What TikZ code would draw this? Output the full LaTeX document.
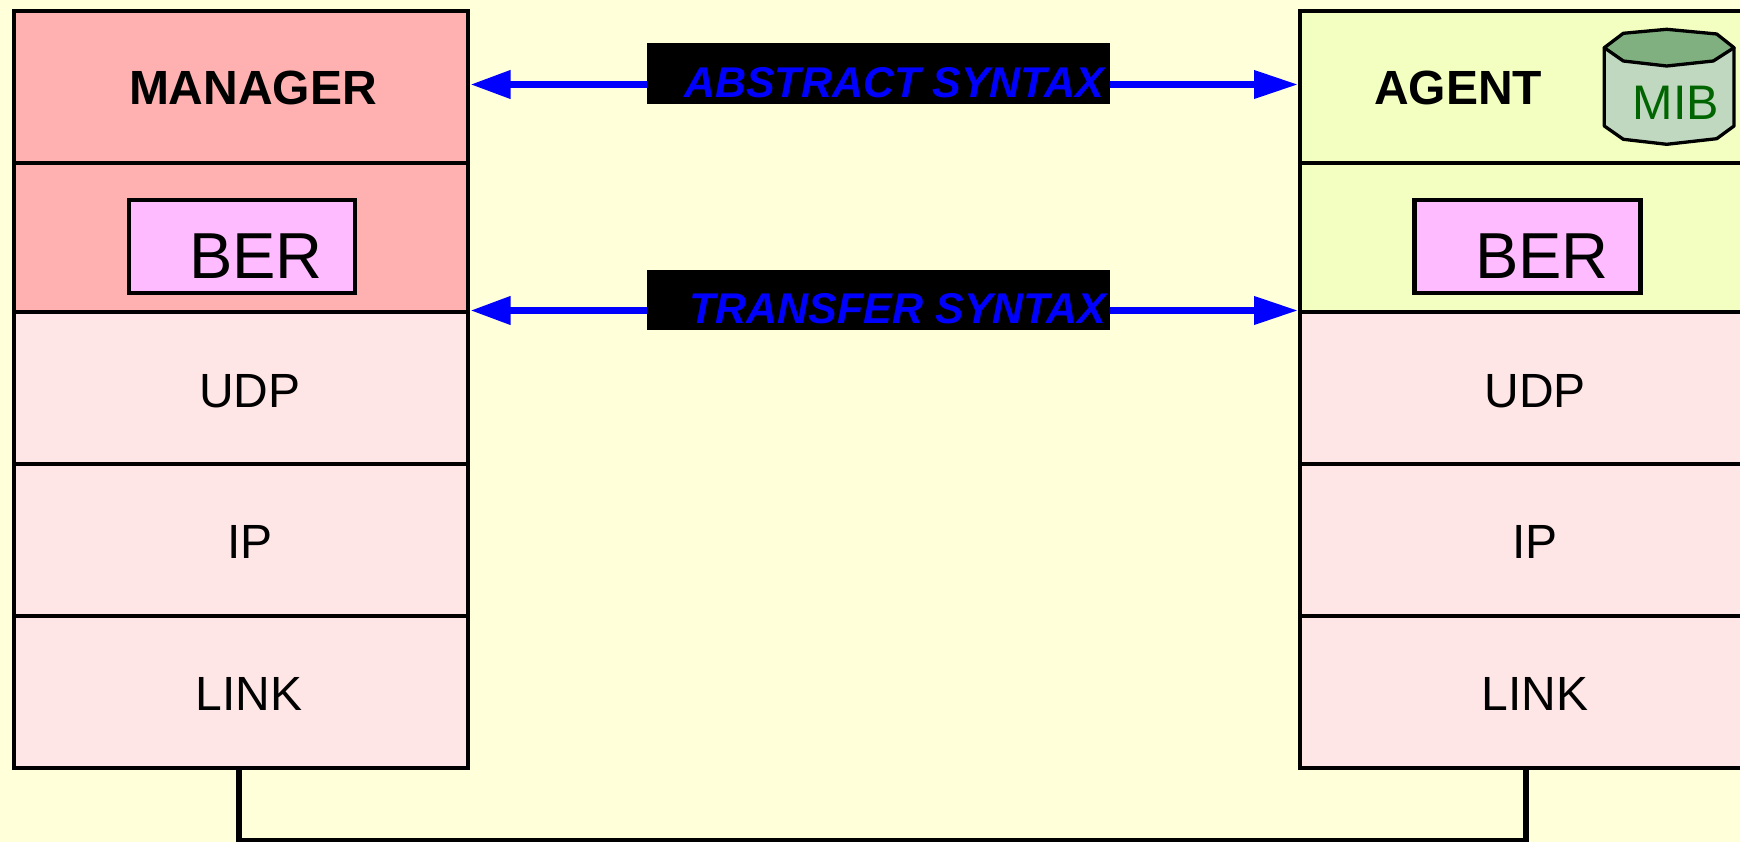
\documentclass[tikz,border=0pt]{standalone}
\usepackage{fontspec}
\setmainfont{Liberation Sans}
\usetikzlibrary{arrows.meta}
\definecolor{bgc}{HTML}{FFFFD9}
\definecolor{mgrc}{HTML}{FFB0B0}
\definecolor{lowc}{HTML}{FFE6E6}
\definecolor{agtc}{HTML}{F2FFC0}
\definecolor{berc}{HTML}{FFBBFF}
\definecolor{mibtop}{HTML}{80B080}
\definecolor{mibbody}{HTML}{C0D8C0}
\definecolor{mibtext}{HTML}{006400}
\tikzset{
  x=1pt,y=-1pt,
  layerbox/.style={draw=black,line width=4.4pt,rectangle,inner sep=0pt,outer sep=0pt,minimum width=#1},
  layerbox/.default=454pt,
  berbox/.style={draw=black,line width=4.4pt,fill=berc,inner sep=0pt,outer sep=0pt,minimum width=226pt,minimum height=93pt},
  blackbox/.style={fill=black,inner sep=0pt,outer sep=0pt,minimum width=463pt,minimum height=60.5pt},
  lbl/.style={anchor=base,inner sep=0pt,outer sep=0pt,text=black},
  titlelbl/.style={lbl,font=\fontsize{48}{48}\selectfont\bfseries},
  berlbl/.style={lbl,font=\fontsize{65}{65}\selectfont},
  laylbl/.style={lbl,font=\fontsize{48}{48}\selectfont},
  miblbl/.style={lbl,text=mibtext,font=\fontsize{48.5}{48.5}\selectfont},
  synlbl/.style={anchor=base,inner sep=0pt,outer sep=0pt,text=blue,font=\fontsize{43}{43}\selectfont\bfseries\itshape},
  synconl/.style={draw=blue,line width=7pt,-{Triangle[length=40pt,width=27pt,fill=blue]},shorten >=2.5pt},
  synconr/.style={draw=blue,line width=7pt,-{Triangle[length=44pt,width=27pt,fill=blue]},shorten >=2pt},
  cable/.style={draw=black,line width=6.8pt,line join=miter},
  mibline/.style={draw=black,line width=3.3pt,line join=round},
}
\begin{document}
\begin{tikzpicture}
\useasboundingbox (0,0) rectangle (1740,842);
\clip (0,0) rectangle (1740,842);
\fill[bgc] (0,0) rectangle (1740,842);
% cable
\coordinate (cabA) at (239,841);
\coordinate (cabB) at (1526,841);
% manager stack
\node[layerbox,fill=mgrc,minimum height=152pt] (m1) at (241,87) {};
\node[layerbox,fill=mgrc,minimum height=149pt] (m2) at (241,237.5) {};
\node[layerbox,fill=lowc,minimum height=152pt] (m3) at (241,388) {};
\node[layerbox,fill=lowc,minimum height=152pt] (m4) at (241,540) {};
\node[layerbox,fill=lowc,minimum height=152pt] (m5) at (241,692) {};
% agent stack (runs past the right edge)
\node[layerbox=480pt,fill=agtc,minimum height=152pt] (a1) at (1540,87) {};
\node[layerbox=480pt,fill=agtc,minimum height=149pt] (a2) at (1540,237.5) {};
\node[layerbox=480pt,fill=lowc,minimum height=152pt] (a3) at (1540,388) {};
\node[layerbox=480pt,fill=lowc,minimum height=152pt] (a4) at (1540,540) {};
\node[layerbox=480pt,fill=lowc,minimum height=152pt] (a5) at (1540,692) {};
\draw[cable] (m5.south -| cabA) -- (cabA) -- (cabB) -- (a5.south -| cabB);
% BER boxes
\node[berbox] (mber) at (242,246.5) {};
\node[berbox] (aber) at (1527.5,246.5) {};
% labels
\node[titlelbl] (mgrt) at (253,105) {MANAGER};
\node[titlelbl] (agtt) at (1458,105) {AGENT};
\node[berlbl] (mbert) at (256,278.5) {BER};
\node[berlbl] (abert) at (1542,278.5) {BER};
\node[laylbl] (mudp) at (250,407) {UDP};
\node[laylbl] (mip) at (250,558) {IP};
\node[laylbl] (mlink) at (249,710) {LINK};
\node[laylbl] (audp) at (1535,407) {UDP};
\node[laylbl] (aip) at (1535,558) {IP};
\node[laylbl] (alink) at (1535,710) {LINK};
% MIB cylinder
\draw[mibline,fill=mibbody] (1604.3,47.7) -- (1604.3,126) -- (1623.3,139.3) -- (1666.7,144.3) -- (1716.7,138.7) -- (1734,126) -- (1734,47.7) -- cycle;
\draw[mibline,fill=mibtop] (1604.3,47.7) -- (1623.3,33.3) -- (1666.7,29.3) -- (1716.7,34) -- (1734,47.7) -- (1713.3,61) -- (1666.7,66) -- (1623.3,61) -- cycle;
\node[miblbl] (mibt) at (1676,120) {MIB};
% syntax labels
\node[blackbox] (absbox) at (878.5,73.5) {};
\node[blackbox] (trabox) at (878.5,300) {};
\node[synlbl] (abst) at (894,97.5) {ABSTRACT SYNTAX};
\node[synlbl] (trat) at (898,323.5) {TRANSFER SYNTAX};
\coordinate (absL) at (absbox.west |- 0,84.5);
\coordinate (absR) at (absbox.east |- 0,84.5);
\coordinate (traL) at (trabox.west |- 0,310.5);
\coordinate (traR) at (trabox.east |- 0,310.5);
\draw[synconl] (absL) -- (m1.east |- absL);
\draw[synconr] (absR) -- (a1.west |- absR);
\draw[synconl] (traL) -- (m2.east |- traL);
\draw[synconr] (traR) -- (a2.west |- traR);
\end{tikzpicture}
\end{document}
